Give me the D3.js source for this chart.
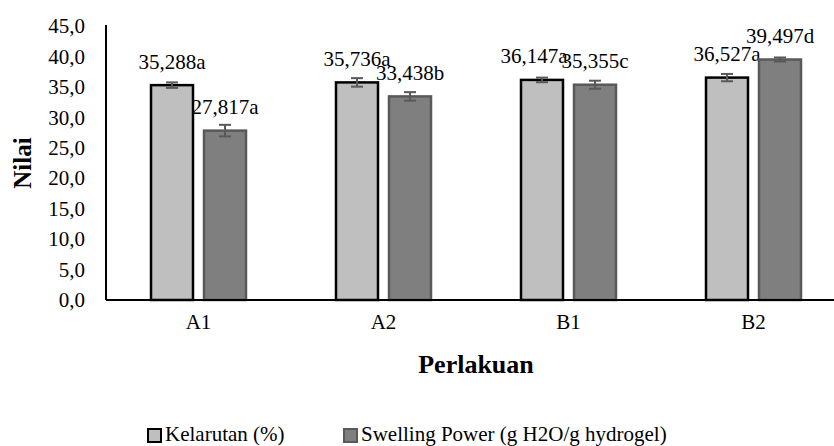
<!DOCTYPE html>
<html>
<head>
<meta charset="utf-8">
<script src="https://cdn.jsdelivr.net/npm/d3@7/dist/d3.min.js"></script>
<style>
  html, body { margin: 0; padding: 0; background: #fff; }
  svg { display: block; }
  svg text { font-family: "Liberation Serif", "Times New Roman", serif; }
</style>
</head>
<body>
<div id="chart"></div>
<script>
// Perlakuan (treatments) and the two measured responses
const categories = ["A1", "A2", "B1", "B2"];
const seriesNames = ["Kelarutan (%)", "Swelling Power (g H2O/g hydrogel)"];
const kelarutan = [35.288, 35.736, 36.147, 36.527];
const kelarutanErr = [0.45, 0.7, 0.38, 0.6];
const kelarutanNotation = ["a", "a", "a", "a"];
const swelling = [27.817, 33.438, 35.355, 39.497];
const swellingErr = [0.95, 0.7, 0.66, 0.33];
const swellingNotation = ["a", "b", "c", "d"];
const yTicks = [0, 5, 10, 15, 20, 25, 30, 35, 40, 45];

const W = 834, H = 446;
const plotLeft = 106, plotRight = 846, plotTop = 26, plotBottom = 300;

const fills = ["#bfbfbf", "#7f7f7f"];
const strokes = ["#000000", "#595959"];

const svg = d3.select("#chart").append("svg")
  .attr("width", W).attr("height", H);

const x0 = d3.scaleBand().domain(categories).range([plotLeft, plotRight]).padding(0);
const x1 = d3.scaleBand().domain([0, 1]).range([45, 140]).paddingInner(11 / 53).paddingOuter(0);
const y = d3.scaleLinear().domain([0, 45]).range([plotBottom, plotTop]);

const fmt = v => d3.format(".1f")(v).replace(".", ",");
const fmt3 = v => d3.format(".3f")(v).replace(".", ",");

// rows: one per category, holding both series
const rows = categories.map((c, i) => ({
  cat: c,
  vals: [
    { s: 0, v: kelarutan[i], e: kelarutanErr[i], n: kelarutanNotation[i] },
    { s: 1, v: swelling[i], e: swellingErr[i], n: swellingNotation[i] }
  ]
}));

// y axis: labels only, plus a vertical line
const yAxis = d3.axisLeft(y).tickValues(yTicks).tickFormat(fmt).tickSize(0).tickPadding(21);
const gy = svg.append("g").attr("transform", `translate(${plotLeft},0)`).call(yAxis);
gy.attr("font-family", null);
gy.select(".domain").remove();
gy.selectAll("text").attr("font-size", 21).attr("fill", "#000");
svg.append("line")
  .attr("x1", plotLeft).attr("x2", plotLeft).attr("y1", y(45) - 1).attr("y2", y(0))
  .attr("stroke", "#000").attr("stroke-width", 2);

// value labels (drawn beneath the bars)
const labelNudge = { "B1-0": -8 };
const g = svg.append("g");
rows.forEach(r => {
  r.vals.forEach(d => {
    const cx = x0(r.cat) + x1(d.s) + x1.bandwidth() / 2 + (labelNudge[r.cat + "-" + d.s] || 0);
    g.append("text")
      .attr("x", cx).attr("y", y(d.v) - 16.5)
      .attr("text-anchor", "middle")
      .attr("font-size", 21).attr("fill", "#000")
      .text(fmt3(d.v) + d.n);
  });
});

// bars
const cats = svg.append("g").selectAll("g").data(rows).join("g")
  .attr("transform", d => `translate(${x0(d.cat)},0)`);
cats.selectAll("rect").data(d => d.vals).join("rect")
  .attr("x", d => x1(d.s))
  .attr("y", d => y(d.v))
  .attr("width", x1.bandwidth())
  .attr("height", d => y(0) - y(d.v))
  .attr("fill", d => fills[d.s])
  .attr("stroke", d => strokes[d.s])
  .attr("stroke-width", 2.5);

// error bars
const eb = cats.selectAll("g.err").data(d => d.vals).join("g").attr("class", "err")
  .attr("stroke", "#595959").attr("stroke-width", 2);
eb.append("line")
  .attr("x1", d => x1(d.s) + x1.bandwidth() / 2).attr("x2", d => x1(d.s) + x1.bandwidth() / 2)
  .attr("y1", d => y(d.v + d.e)).attr("y2", d => y(d.v - d.e));
eb.append("line")
  .attr("x1", d => x1(d.s) + x1.bandwidth() / 2 - 6).attr("x2", d => x1(d.s) + x1.bandwidth() / 2 + 6)
  .attr("y1", d => y(d.v + d.e)).attr("y2", d => y(d.v + d.e));
eb.append("line")
  .attr("x1", d => x1(d.s) + x1.bandwidth() / 2 - 6).attr("x2", d => x1(d.s) + x1.bandwidth() / 2 + 6)
  .attr("y1", d => y(d.v - d.e)).attr("y2", d => y(d.v - d.e));

// x axis
const xAxis = d3.axisBottom(x0).tickSize(0).tickPadding(14);
const gx = svg.append("g").attr("transform", `translate(0,${plotBottom})`).call(xAxis);
gx.attr("font-family", null);
gx.select(".domain").attr("stroke", "#000").attr("stroke-width", 2).attr("d", `M${plotLeft},0H${plotRight}`);
gx.selectAll("text").attr("font-size", 21).attr("fill", "#000");

// axis titles
svg.append("text")
  .attr("x", 476).attr("y", 373)
  .attr("text-anchor", "middle").attr("font-weight", "bold").attr("font-size", 26)
  .text("Perlakuan");
svg.append("text")
  .attr("transform", `translate(31,${(plotTop + plotBottom) / 2}) rotate(-90)`)
  .attr("text-anchor", "middle").attr("font-weight", "bold").attr("font-size", 25)
  .text("Nilai");

// legend
const legendX = [148, 344];
const lg = svg.append("g").selectAll("g").data(seriesNames).join("g")
  .attr("transform", (d, i) => `translate(${legendX[i]},429)`);
lg.append("rect")
  .attr("width", 13).attr("height", 13)
  .attr("fill", (d, i) => fills[i])
  .attr("stroke", (d, i) => strokes[i]).attr("stroke-width", 2);
lg.append("text")
  .attr("x", 17).attr("y", 12)
  .attr("font-size", 21).attr("fill", "#000")
  .text(d => d);
</script>
</body>
</html>
